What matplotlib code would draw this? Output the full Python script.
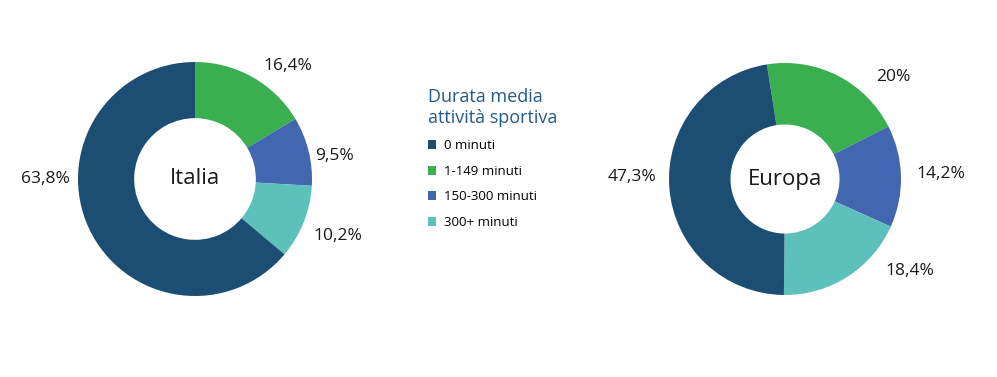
import matplotlib.pyplot as plt

# --- data ---
categories = ["0 minuti", "1-149 minuti", "150-300 minuti", "300+ minuti"]
italia = [63.8, 16.4, 9.5, 10.2]
europa = [47.3, 20.0, 14.2, 18.4]

colors = ["#1c4e74", "#3aaf50", "#4267b0", "#5dc1bb"]

# pie order clockwise from top: green, blue, teal, dark
order = [1, 2, 3, 0]

plt.rcParams["font.family"] = ["Open Sans", "DejaVu Sans"]

fig = plt.figure(figsize=(9.97, 3.77), dpi=100)
W, H = 997, 377


def donut(cx, cy, r, values, name, start, width, label_pos):
    ax = fig.add_axes([(cx - r) / W, (H - cy - r) / H, 2 * r / W, 2 * r / H])
    vals = [values[i] for i in order]
    cols = [colors[i] for i in order]
    wedges, _ = ax.pie(vals, colors=cols, startangle=start, counterclock=False,
                       radius=1, wedgeprops=dict(width=width, linewidth=0))
    ax.set_xlim(-1, 1)
    ax.set_ylim(-1, 1)
    ax.set_aspect("equal")
    ax.axis("off")
    ax.text(0, 0, name, ha="center", va="center", fontsize=16, color="#1a1a1a")
    for i, (lx, ly) in zip(order, label_pos):
        lab = f"{values[i]:g}".replace(".", ",") + "%"
        ax.text(lx, ly, lab, ha="center", va="center", fontsize=12.5,
                color="#1a1a1a", clip_on=False)
    return wedges


# label positions (radius units), in pie order: green, blue, teal, dark
wedges = donut(195, 179, 117, italia, "Italia", 90, 0.48,
               [(0.79, 0.97), (1.19, 0.20), (1.22, -0.49), (-1.28, 0.0)])
donut(785, 179, 116, europa, "Europa", 99, 0.53,
      [(0.93, 0.88), (1.34, 0.04), (1.08, -0.79), (-1.32, 0.02)])

# legend
handles = [wedges[order.index(i)] for i in range(len(categories))]
leg = fig.legend(handles, categories, loc="upper left",
                 bbox_to_anchor=(416 / W, 1 - 76 / H),
                 title="Durata media\nattività sportiva", frameon=False,
                 fontsize=9.5, handlelength=0.65, handleheight=0.65,
                 handletextpad=0.6, labelspacing=0.95)
leg.get_title().set_fontsize(13)
leg.get_title().set_color("#235a8c")
leg._legend_box.align = "left"

fig.savefig("out.png", dpi=100)
